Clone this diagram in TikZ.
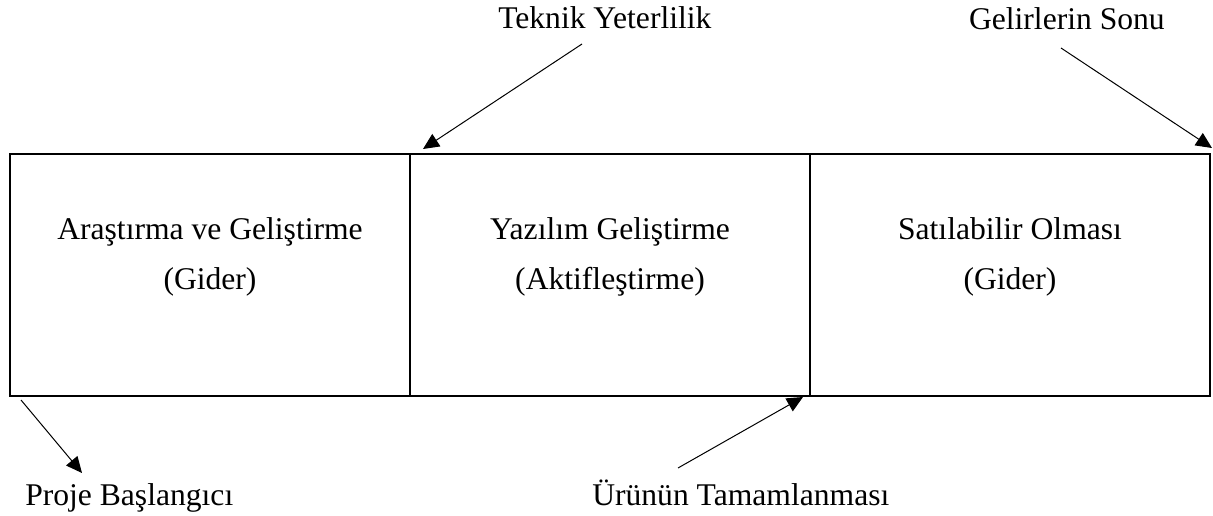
\documentclass[tikz,border=0pt]{standalone}
\usepackage{fontspec}
\setmainfont{Liberation Serif}
\usetikzlibrary{arrows.meta}
\begin{document}
\begin{tikzpicture}[x=0.75pt,y=-0.75pt,
  box/.style={draw,line width=1.5pt,minimum width=300pt,minimum height=181.5pt,inner sep=0pt,outer sep=0pt,anchor=north west},
  txt/.style={font=\fontsize{23.7pt}{28pt}\selectfont,inner sep=0pt,anchor=base},
  arr/.style={line width=0.75pt,-{Triangle[length=12pt,width=11pt]}}]
\useasboundingbox (0,0) rectangle (1213,516);
% boxes
\node[box] (b1) at (10,154) {};
\node[box] (b2) at (410,154) {};
\node[box] (b3) at (810,154) {};
% box texts
\node[txt] (t1a) at (210,240) {Araştırma ve Geliştirme};
\node[txt] (t1b) at (210,290) {(Gider)};
\node[txt] (t2a) at (610,240) {Yazılım Geliştirme};
\node[txt] (t2b) at (610,290) {(Aktifleştirme)};
\node[txt] (t3a) at (1010,240) {Satılabilir Olması};
\node[txt] (t3b) at (1010,290) {(Gider)};
% labels
\node[txt,anchor=base west] (tek) at (498,29) {Teknik Yeterlilik};
\node[txt,anchor=base east] (gel) at (1165,30) {Gelirlerin Sonu};
\node[txt,anchor=base west] (pro) at (25,505) {Proje Başlangıcı};
\node[txt,anchor=base west] (uru) at (592,505) {Ürünün Tamamlanması};
% arrow coordinates
\coordinate (a1s) at (582,44);  \coordinate (a1e) at (423,149);
\coordinate (a2s) at (1061,48); \coordinate (a2e) at (1212,148);
\coordinate (a3s) at (21,400);  \coordinate (a3e) at (82,473);
\coordinate (a4s) at (678,468); \coordinate (a4e) at (803,397);
\draw[arr] (a1s) -- (a1e);
\draw[arr] (a2s) -- (a2e);
\draw[arr] (a3s) -- (a3e);
\draw[arr] (a4s) -- (a4e);
\end{tikzpicture}
\end{document}
